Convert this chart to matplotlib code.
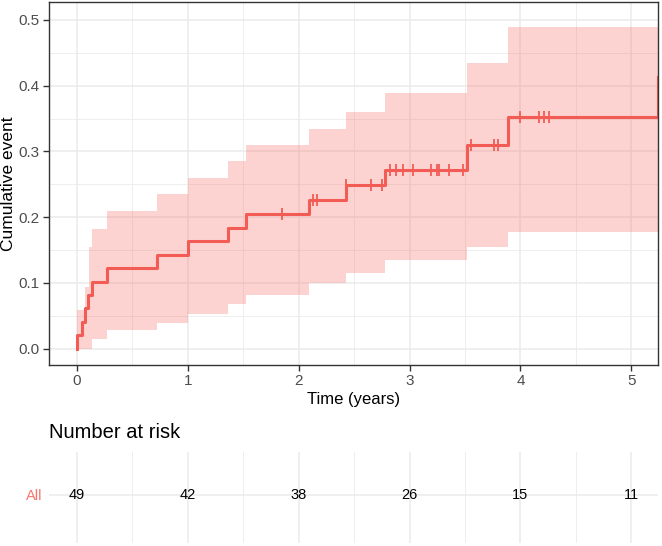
import numpy as np
import matplotlib.pyplot as plt
from matplotlib.ticker import MultipleLocator

plt.rcParams['font.family'] = ['Liberation Sans', 'DejaVu Sans']

# cumulative event curve (Kaplan-Meier, 1 - S)
event_t = [0, 0, 0.047, 0.077, 0.098, 0.14, 0.27, 0.72, 1.00, 1.36, 1.53,
           2.09, 2.43, 2.78, 3.52, 3.89, 5.24]
event_y = [0, 0.0204, 0.0408, 0.0612, 0.0816, 0.102, 0.122, 0.143, 0.163,
           0.184, 0.204, 0.226, 0.249, 0.272, 0.309, 0.352, 0.413]

# confidence band
band_t = [0, 0.047, 0.077, 0.107, 0.14, 0.27, 0.72, 1.00, 1.36, 1.53, 2.09,
          2.43, 2.78, 3.52, 3.89, 5.24]
band_hi = [0.058, 0.058, 0.094, 0.155, 0.182, 0.209, 0.235, 0.260, 0.285,
           0.309, 0.334, 0.360, 0.389, 0.435, 0.490, 0.490]
band_lo = [0, 0, 0, 0, 0.014, 0.028, 0.039, 0.053, 0.068, 0.082, 0.099,
           0.115, 0.134, 0.154, 0.178, 0.178]

# censored observations
cens_t = [1.85, 2.13, 2.17, 2.43, 2.65, 2.75, 2.82, 2.88, 2.94, 3.03, 3.19,
          3.25, 3.27, 3.36, 3.48, 3.55, 3.76, 3.80, 4.00, 4.17, 4.21, 4.26]

# number at risk
risk_t = [0, 1, 2, 3, 4, 5]
risk_n = [49, 42, 38, 26, 15, 11]

red = '#F25C54'
band_col = '#F8766D'
grid_col = '#EBEBEB'
txt_grey = '#4D4D4D'

fig = plt.figure(figsize=(6.62, 5.46), dpi=100)
ax = fig.add_axes([0.074, 0.3315, 0.92, 0.6645])

ax.fill_between(band_t, band_lo, band_hi, step='post', color=band_col,
                alpha=0.32, lw=0)
ax.step(event_t, event_y, where='post', color=red, lw=2.2)

idx = np.searchsorted(event_t, cens_t, side='right') - 1
cens_y = np.array(event_y)[idx]
ax.plot(cens_t, cens_y, ls='none', marker='|', ms=8, mew=1.3, color=red)

ax.set_xlim(-0.25, 5.24)
ax.set_ylim(-0.025, 0.527)
ax.xaxis.set_major_locator(MultipleLocator(1))
ax.xaxis.set_minor_locator(MultipleLocator(0.5))
ax.yaxis.set_major_locator(MultipleLocator(0.1))
ax.yaxis.set_minor_locator(MultipleLocator(0.05))
ax.yaxis.set_major_formatter(plt.FormatStrFormatter('%.1f'))
ax.grid(which='major', color=grid_col, lw=1.1)
ax.grid(which='minor', color=grid_col, lw=0.6)
ax.set_axisbelow(True)
ax.tick_params(which='major', length=4, width=1, color='#333333',
               labelsize=11, labelcolor=txt_grey, pad=2.5)
ax.tick_params(which='minor', length=0)
for s in ax.spines.values():
    s.set_color('#333333')
    s.set_linewidth(1)
ax.set_xlabel('Time (years)', fontsize=12, labelpad=3)
ax.set_ylabel('Cumulative event', fontsize=12.5, labelpad=2)

# risk table
tab = fig.add_axes([0.074, 0.005, 0.92, 0.167])
tab.set_xlim(-0.25, 5.24)
tab.set_ylim(0, 1)
tab.xaxis.set_major_locator(MultipleLocator(1))
tab.xaxis.set_minor_locator(MultipleLocator(0.5))
tab.set_yticks([0.53])
tab.set_yticklabels(['All'])
tab.grid(which='major', color=grid_col, lw=1.1)
tab.grid(which='minor', axis='x', color=grid_col, lw=0.6)
tab.set_axisbelow(True)
tab.tick_params(which='both', length=0, labelbottom=False, labelsize=10.5,
                pad=5)
tab.get_yticklabels()[0].set_color(band_col)
for s in tab.spines.values():
    s.set_visible(False)
for t, n in zip(risk_t, risk_n):
    tab.text(t, 0.53, str(n), ha='center', va='center', fontsize=10.5,
             color='black')
fig.text(0.074, 0.207, 'Number at risk', fontsize=14.5, va='center',
         ha='left')

fig.savefig('out.png', dpi=100)
